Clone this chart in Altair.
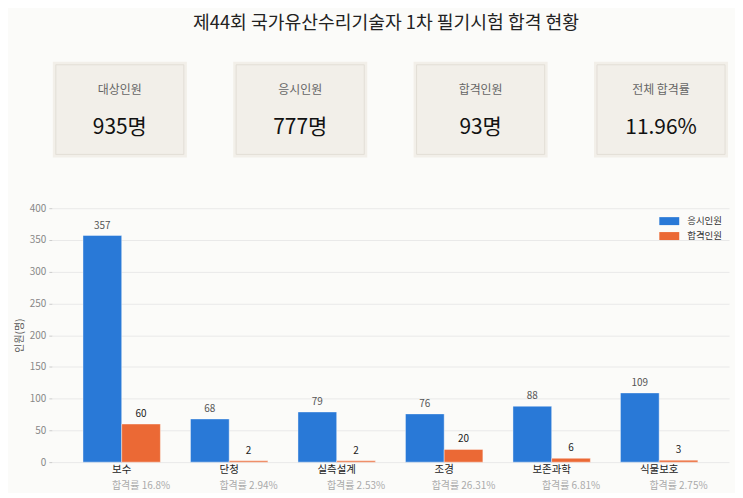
import altair as alt
import pandas as pd

FONT = "Noto Sans CJK KR"

title_text = "제44회 국가유산수리기술자 1차 필기시험 합격 현황"

kpi_labels = ["대상인원", "응시인원", "합격인원", "전체 합격률"]
kpi_values = ["935명", "777명", "93명", "11.96%"]

categories = ["보수", "단청", "실측설계", "조경", "보존과학", "식물보호"]
applicants = [357, 68, 79, 76, 88, 109]
passers = [60, 2, 2, 20, 6, 3]
pass_rates = ["16.8%", "2.94%", "2.53%", "26.31%", "6.81%", "2.75%"]
y_ticks = [0, 50, 100, 150, 200, 250, 300, 350, 400]

series_names = ["응시인원", "합격인원"]
series_colors = ["#2979d7", "#eb6935"]

# ---------- KPI cards ----------
kpi_df = pd.DataFrame({"label": kpi_labels, "value": kpi_values})
kx = alt.X("label:N", sort=kpi_labels, axis=None,
           scale=alt.Scale(paddingInner=0.29, paddingOuter=0.022))
kpi_base = alt.Chart(kpi_df).encode(x=kx)
card_fill = kpi_base.mark_rect(fill="#f2efe9", stroke="#f2efe9", strokeWidth=6)
card_border = kpi_base.mark_rect(fillOpacity=0, stroke="#e2ded6", strokeWidth=1)
kpi_lab = kpi_base.mark_text(dy=-20, fontSize=12, color="#666", baseline="middle").encode(text="label:N")
kpi_val = kpi_base.mark_text(dy=19, fontSize=21, color="#111", baseline="middle").encode(text="value:N")
kpi = alt.layer(card_fill, card_border, kpi_lab, kpi_val).properties(width=680, height=90)

# ---------- grouped bars ----------
bars_df = pd.DataFrame({
    "cat": categories * 2,
    "series": [s for s in series_names for _ in categories],
    "value": applicants + passers,
})
rate_df = pd.DataFrame({
    "cat": categories,
    "series": [series_names[1]] * len(categories),
    "rate": ["합격률 " + r for r in pass_rates],
})

x_enc = alt.X("cat:N", sort=categories,
              scale=alt.Scale(paddingInner=0.28, paddingOuter=0.29),
              axis=alt.Axis(title=None, labelAngle=0, ticks=False, tickSize=0, domain=False,
                            labelPadding=2, labelFontSize=10.5, labelColor="#222", grid=False))
xo_enc = alt.XOffset("series:N", sort=series_names,
                     scale=alt.Scale(domain=series_names, paddingInner=0, paddingOuter=0))
y_scale = alt.Scale(domain=[0, 400], nice=False)
y_axis = alt.Axis(title="인원(명)", values=y_ticks,
                  tickSize=3, tickColor="#cccccc", labelColor="#888888",
                  labelFontSize=10, labelPadding=3, domain=False,
                  gridColor="#e9e9e9", titleFontSize=10, titleFontWeight="normal",
                  titleColor="#555555", titlePadding=5)
y_enc = alt.Y("value:Q", scale=y_scale, axis=y_axis)

bars = alt.Chart(bars_df).mark_bar(stroke="#ffffff", strokeWidth=1, strokeOpacity=0.4).encode(
    x=x_enc, xOffset=xo_enc, y=y_enc,
    color=alt.Color("series:N", sort=series_names,
                    scale=alt.Scale(domain=series_names, range=series_colors),
                    legend=alt.Legend(title=None, orient="none", legendX=615, legendY=152, padding=0,
                                      symbolType="M-2,-0.8H2V0.8H-2Z", symbolSize=100,
                                      labelFontSize=9.5, labelColor="#333333", labelOffset=13,
                                      rowPadding=5, symbolStrokeWidth=0)),
)
value_labels = alt.Chart(bars_df).mark_text(baseline="bottom", dy=-5, fontSize=10).encode(
    x=x_enc, xOffset=xo_enc, y=y_enc, text="value:Q",
    color=alt.condition(alt.datum.series == series_names[0], alt.value("#555555"), alt.value("#222222")),
)
rate_text = alt.Chart(rate_df).mark_text(dy=24, fontSize=10, color="#aaaaaa", baseline="middle").encode(
    x=x_enc, xOffset=xo_enc,
    y=alt.YDatum(0, type="quantitative", scale=y_scale, axis=y_axis),
    text="rate:N",
)
bar_chart = alt.layer(bars, value_labels, rate_text).properties(width=680, height=255)

chart = alt.vconcat(kpi, bar_chart, spacing=44).properties(
    title=alt.TitleParams(text=title_text, fontSize=18.3, fontWeight="normal", color="#222222",
                          anchor="start", offset=28, dx=180),
    background="#fbfbf9",
    padding={"left": 5, "top": 5, "right": 5, "bottom": 0},
).configure(font=FONT).configure_view(stroke="transparent")

chart.save("out.html", embed_options={"renderer": "svg", "actions": False})
